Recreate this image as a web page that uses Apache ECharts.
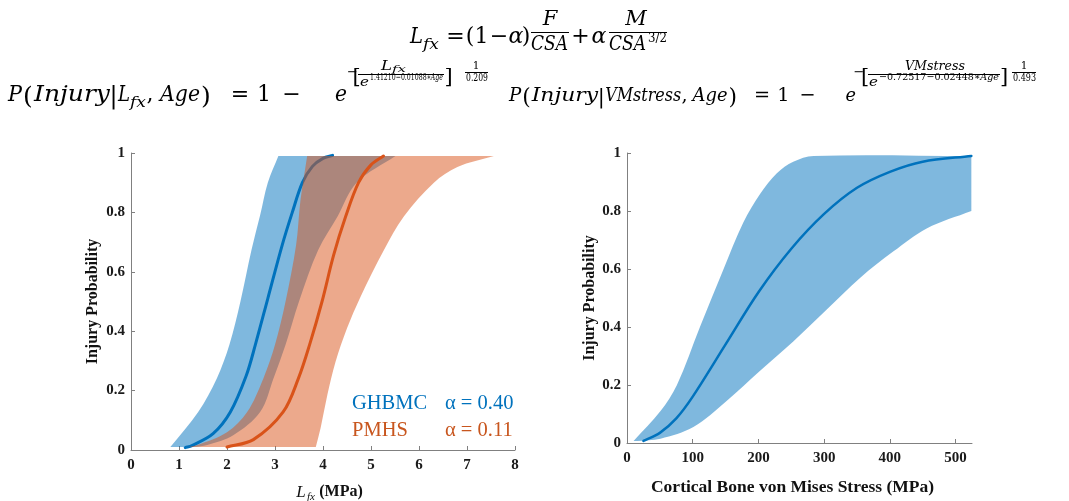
<!DOCTYPE html>
<html><head><meta charset="utf-8">
<script src="https://cdn.jsdelivr.net/npm/echarts@6/dist/echarts.min.js"></script>
<style>html,body{margin:0;padding:0;background:#fff}#c{width:1069px;height:501px}</style>
</head><body><div id="c"></div>
<script>
// ---------- data ----------
const lfxTicks = [0,1,2,3,4,5,6,7,8];
const probTicks = [0,0.2,0.4,0.6,0.8,1];
const vmTicks = [0,100,200,300,400,500];

// Left chart: [Lfx (MPa), probability]
const ghbmcMean  = [[1.13,0.008],[1.27,0.015],[1.71,0.055],[2.07,0.128],[2.40,0.25],[2.59,0.354],[2.85,0.51],[3.15,0.69],[3.36,0.80],[3.57,0.9],[3.78,0.955],[4.0,0.982],[4.2,0.992]];
const ghbmcUpper = [[0.82,0.01],[1.40,0.128],[1.79,0.242],[2.05,0.354],[2.28,0.5],[2.51,0.673],[2.69,0.79],[2.85,0.90],[3.07,0.99]];
const ghbmcLower = [[1.30,0.01],[1.59,0.017],[2.13,0.05],[2.69,0.128],[2.97,0.242],[3.22,0.354],[3.50,0.5],[3.9,0.673],[4.30,0.785],[4.70,0.90],[5.51,0.99]];
const pmhsMean   = [[2.0,0.01],[2.55,0.035],[3.17,0.128],[3.49,0.242],[3.72,0.354],[3.98,0.50],[4.22,0.655],[4.47,0.785],[4.74,0.9],[5.0,0.96],[5.26,0.99]];
const pmhsUpper  = [[1.17,0.01],[1.38,0.017],[2.0,0.06],[2.42,0.128],[2.76,0.242],[3.0,0.354],[3.22,0.5],[3.44,0.69],[3.53,0.84],[3.67,0.99]];
const pmhsLower  = [[3.85,0.01],[3.95,0.074],[4.09,0.185],[4.26,0.296],[4.5,0.41],[4.78,0.515],[5.27,0.673],[5.68,0.785],[6.31,0.90],[6.8,0.953],[7.56,0.99]];

// Right chart: [von Mises stress (MPa), probability]
const vmMean  = [[25,0.007],[50,0.035],[75,0.085],[100,0.16],[150,0.34],[200,0.52],[250,0.67],[300,0.79],[350,0.88],[400,0.935],[450,0.97],[524,0.99]];
const vmUpper = [[10,0.007],[51,0.11],[76,0.2],[111,0.4],[147,0.6],[177,0.76],[203,0.86],[228,0.93],[253,0.97],[284,0.99],[524,0.99]];
const vmLower = [[15,0.007],[51,0.015],[101,0.055],[152,0.146],[203,0.25],[253,0.35],[304,0.46],[355,0.57],[405,0.66],[456,0.74],[524,0.80]];

const legendNames = ['GHBMC','PMHS'];
const legendAlpha = ['α = 0.40','α = 0.11'];

// ---------- styles ----------
const BLUE = '#0072BD', ORANGE = '#D95319';
const BLUE_BAND = 'rgba(0,114,189,0.5)', ORANGE_BAND = 'rgba(217,83,25,0.5)';
const SERIF = 'Liberation Serif';
const MF = 'DejaVu Serif';
const AX = '#808080';

function splinePath(pts, first) {
  let d = (first ? 'M' : 'L') + pts[0][0] + ' ' + pts[0][1];
  const n = pts.length;
  const dir = pts.map((p, i) => {
    const a = pts[Math.max(0, i-1)], b = pts[Math.min(n-1, i+1)];
    const dx = b[0]-a[0], dy = b[1]-a[1], L = Math.hypot(dx, dy) || 1;
    return [dx/L, dy/L];
  });
  for (let i = 0; i < n-1; i++) {
    const p1 = pts[i], p2 = pts[i+1];
    const len = Math.hypot(p2[0]-p1[0], p2[1]-p1[1]) / 3;
    const c1 = [p1[0] + dir[i][0]*len, p1[1] + dir[i][1]*len];
    const c2 = [p2[0] - dir[i+1][0]*len, p2[1] - dir[i+1][1]*len];
    d += ' C' + c1[0] + ' ' + c1[1] + ' ' + c2[0] + ' ' + c2[1] + ' ' + p2[0] + ' ' + p2[1];
  }
  return d;
}
function band(upper, lower, color, gi, z) {
  return {
    type: 'custom', xAxisIndex: gi, yAxisIndex: gi, z: z, silent: true, animation: false,
    data: upper.concat(lower), encode: {x: 0, y: 1},
    renderItem: function (params, api) {
      if (params.dataIndex !== 0) return null;
      const up = upper.map(p => api.coord(p));
      const lo = lower.slice().reverse().map(p => api.coord(p));
      return {type: 'path', shape: {pathData: splinePath(up, true) + ' ' + splinePath(lo, false) + ' Z'},
              style: {fill: color, stroke: null}};
    }
  };
}
function curve(data, color, gi, z, w) {
  return {
    type: 'custom', xAxisIndex: gi, yAxisIndex: gi, z: z, silent: true, animation: false,
    data: data, encode: {x: 0, y: 1},
    renderItem: function (params, api) {
      if (params.dataIndex !== 0) return null;
      const pts = data.map(p => api.coord(p));
      return {type: 'path', shape: {pathData: splinePath(pts, true)},
              style: {fill: null, stroke: color, lineWidth: w, lineCap: 'round'}};
    }
  };
}
function xAx(gi, min, max, ticks, name, nameGap) {
  return {type: 'value', gridIndex: gi, min: min, max: max, interval: ticks[1]-ticks[0],
    name: name, nameLocation: 'middle', nameGap: nameGap,
    nameTextStyle: {fontFamily: SERIF, fontWeight: 'bold', fontSize: 17.5, color: '#111', padding: [0, 14, 0, 0]},
    axisLine: {lineStyle: {color: AX, width: 1}},
    axisTick: {inside: true, length: 4, lineStyle: {color: AX}, customValues: ticks},
    axisLabel: {fontFamily: SERIF, fontWeight: 'bold', fontSize: 15, color: '#1a1a1a', margin: 8, customValues: ticks},
    splitLine: {show: false}};
}
function yAx(gi, name, gap) {
  return {type: 'value', gridIndex: gi, min: 0, max: 1, interval: 0.2,
    name: name, nameLocation: 'middle', nameGap: gap, nameRotate: 90,
    nameTextStyle: {fontFamily: SERIF, fontWeight: 'bold', fontSize: 16, color: '#111'},
    axisLine: {show: true, lineStyle: {color: AX, width: 1}},
    axisTick: {show: true, inside: true, length: 4, lineStyle: {color: AX}},
    axisLabel: {fontFamily: SERIF, fontWeight: 'bold', fontSize: 15, color: '#1a1a1a', margin: 6,
      formatter: v => (v === 0 || v === 1) ? String(v) : v.toFixed(1)},
    splitLine: {show: false}};
}

// ---------- math text layout ----------
const mctx = document.createElement('canvas').getContext('2d');
function tw(t, size, it) { mctx.font = (it ? 'italic ' : '') + size + 'px "' + MF + '"'; return mctx.measureText(t).width; }
function el(x, B, t, size, it, sx, align) {
  return {type: 'text', x: x, y: B - 0.345*size, scaleX: sx || 1, silent: true,
    style: {text: t, fontFamily: MF, fontSize: size, fontStyle: it ? 'italic' : 'normal', fill: '#000',
            align: align || 'left', verticalAlign: 'middle'}};
}
function seq(parts, x0, x1, B, size) {
  const W = parts.reduce((a, p) => a + tw(p[0], size, p[1]), 0);
  const sx = (x1 - x0) / W;
  let x = x0; const out = [];
  parts.forEach(p => { out.push(el(x, B, p[0], size, p[1], sx)); x += tw(p[0], size, p[1]) * sx; });
  return out;
}
function ctr(cx, B, t, size, it) { return el(cx, B, t, size, it, 1, 'center'); }
function midc(cx, cy, t, size) {
  return {type: 'text', x: cx, y: cy, silent: true,
    style: {text: t, fontFamily: MF, fontSize: size, fill: '#000', align: 'center', verticalAlign: 'middle'}};
}
function HL(x1, x2, y) {
  return {type: 'line', silent: true, shape: {x1: x1, y1: y, x2: x2, y2: y}, style: {stroke: '#000', lineWidth: 1}};
}

let g = [];
// Equation 1
g = g.concat(
  seq([['L',1]], 410, 423, 45, 22), seq([['fx',1]], 423, 439, 50, 14),
  [ctr(455.5, 45, '=', 22), ctr(470, 45, '(', 22), ctr(481.5, 45, '1', 22), ctr(499, 45, '−', 22), ctr(516, 45, 'α', 22, 1), ctr(526, 45, ')', 22)],
  [ctr(550, 27, 'F', 21, 1), HL(531, 569, 32.5)], seq([['CSA',1]], 531, 568, 52, 20),
  [ctr(580.5, 45, '+', 22), ctr(599, 45, 'α', 22, 1)],
  [ctr(636, 27, 'M', 21, 1), HL(609, 667, 32.5)], seq([['CSA',1]], 609, 646, 52, 20), seq([['3/2',0]], 648, 667, 43, 13)
);
// Equation 2 (main line)
g = g.concat(
  seq([['P',1]], 8, 22, 103, 22), [ctr(28, 106, '(', 25)], seq([['Injury',1]], 34, 110, 103, 22), [ctr(113.5, 105, '|', 24)],
  seq([['L',1]], 118, 130, 103, 22), seq([['fx',1]], 130, 146, 108, 14), [ctr(150, 103, ',', 22)],
  seq([['Age',1]], 160, 200, 103, 22), [ctr(206, 106, ')', 25)],
  [ctr(240, 103, '=', 22), ctr(264, 103, '1', 22), ctr(291.5, 103, '−', 22)], seq([['e',1]], 335, 347, 103, 22)
);
// Equation 2 (exponent)
g = g.concat(
  [midc(352.5, 73, '−', 13), midc(356.5, 78, '[', 21), midc(448.5, 78, ']', 21)],
  seq([['L',1]], 381, 392, 71, 13), seq([['fx',1]], 392, 406, 73, 9), [HL(358, 444, 74.5)],
  seq([['e',1]], 360, 369, 87, 13), seq([['1.41210−0.01088∗',0],['Age',1]], 370, 443, 81, 9.5),
  [ctr(476, 70, '1', 10.5), HL(465, 488, 72.5)], seq([['0.209',0]], 466, 488, 82, 10.5)
);
// Equation 3 (main line)
const k3 = 0.874, o3 = 509;
const X = v => o3 + k3 * v, s3 = 22 * k3;
g = g.concat(
  seq([['P',1]], X(0), X(14), 103, s3), [ctr(X(20), 106, '(', 25*k3)], seq([['Injury',1]], X(26), X(102), 103, s3), [ctr(X(105.5), 105, '|', 24*k3)],
  seq([['VMstress',1]], X(110), X(197), 103, s3), [ctr(X(201), 103, ',', s3)],
  seq([['Age',1]], X(210), X(250), 103, s3), [ctr(X(256), 106, ')', 25*k3)],
  [ctr(X(289.5), 103, '=', s3), ctr(X(314), 103, '1', s3), ctr(X(341.5), 103, '−', s3)], seq([['e',1]], X(385), X(397), 103, s3)
);
// Equation 3 (exponent)
g = g.concat(
  [midc(859, 73, '−', 13), midc(865, 78, '[', 21), midc(1004, 78, ']', 21)],
  seq([['VMstress',1]], 905, 965, 71, 13), [HL(868, 1000, 74.5)],
  seq([['e',1]], 869, 878, 87, 13), seq([['−0.72517−0.02448∗',0],['Age',1]], 879, 999, 81, 10),
  [ctr(1024, 70, '1', 10.5), HL(1012, 1036, 72.5)], seq([['0.493',0]], 1013, 1036, 82, 10.5)
);

// Left x-axis title
g.push({type:'text', x:301, y:493, silent:true, style:{text:'L', fontFamily:SERIF, fontSize:17, fontStyle:'italic', fill:'#111', align:'center', verticalAlign:'middle'}},
       {type:'text', x:311, y:497, silent:true, style:{text:'fx', fontFamily:SERIF, fontSize:11, fontStyle:'italic', fill:'#111', align:'center', verticalAlign:'middle'}},
       {type:'text', x:341, y:492, silent:true, style:{text:'(MPa)', fontFamily:SERIF, fontSize:16, fontWeight:'bold', fill:'#111', align:'center', verticalAlign:'middle'}});
// Legend-style labels
function lab(x, y, t, c) {
  return {type:'text', x:x, y:y, silent:true, style:{text:t, fontFamily:SERIF, fontSize:20.5, fill:c, align:'left', verticalAlign:'middle'}};
}
g.push(lab(352, 404, legendNames[0], BLUE), lab(445, 404, legendAlpha[0], BLUE),
       lab(352, 431, legendNames[1], '#C8561E'), lab(445, 431, legendAlpha[1], '#C8561E'));

const chart = echarts.init(document.getElementById('c'), null, {renderer: 'canvas'});
chart.setOption({
  backgroundColor: '#fff',
  animation: false,
  grid: [{left: 131, top: 153, width: 384, height: 297}, {left: 627, top: 153, width: 345, height: 293}],
  xAxis: [xAx(0, 0, 8, lfxTicks, '', 30), xAx(1, 0, 525, vmTicks, 'Cortical Bone von Mises Stress (MPa)', 35)],
  yAxis: [yAx(0, 'Injury Probability', 30), yAx(1, 'Injury Probability', 27)],
  series: [
    band(ghbmcUpper, ghbmcLower, BLUE_BAND, 0, 1),
    curve(ghbmcMean, BLUE, 0, 2, 3),
    band(pmhsUpper, pmhsLower, ORANGE_BAND, 0, 3),
    curve(pmhsMean, ORANGE, 0, 4, 3),
    band(vmUpper, vmLower, BLUE_BAND, 1, 1),
    curve(vmMean, BLUE, 1, 2, 2.5)
  ],
  graphic: {elements: g}
});
</script></body></html>
